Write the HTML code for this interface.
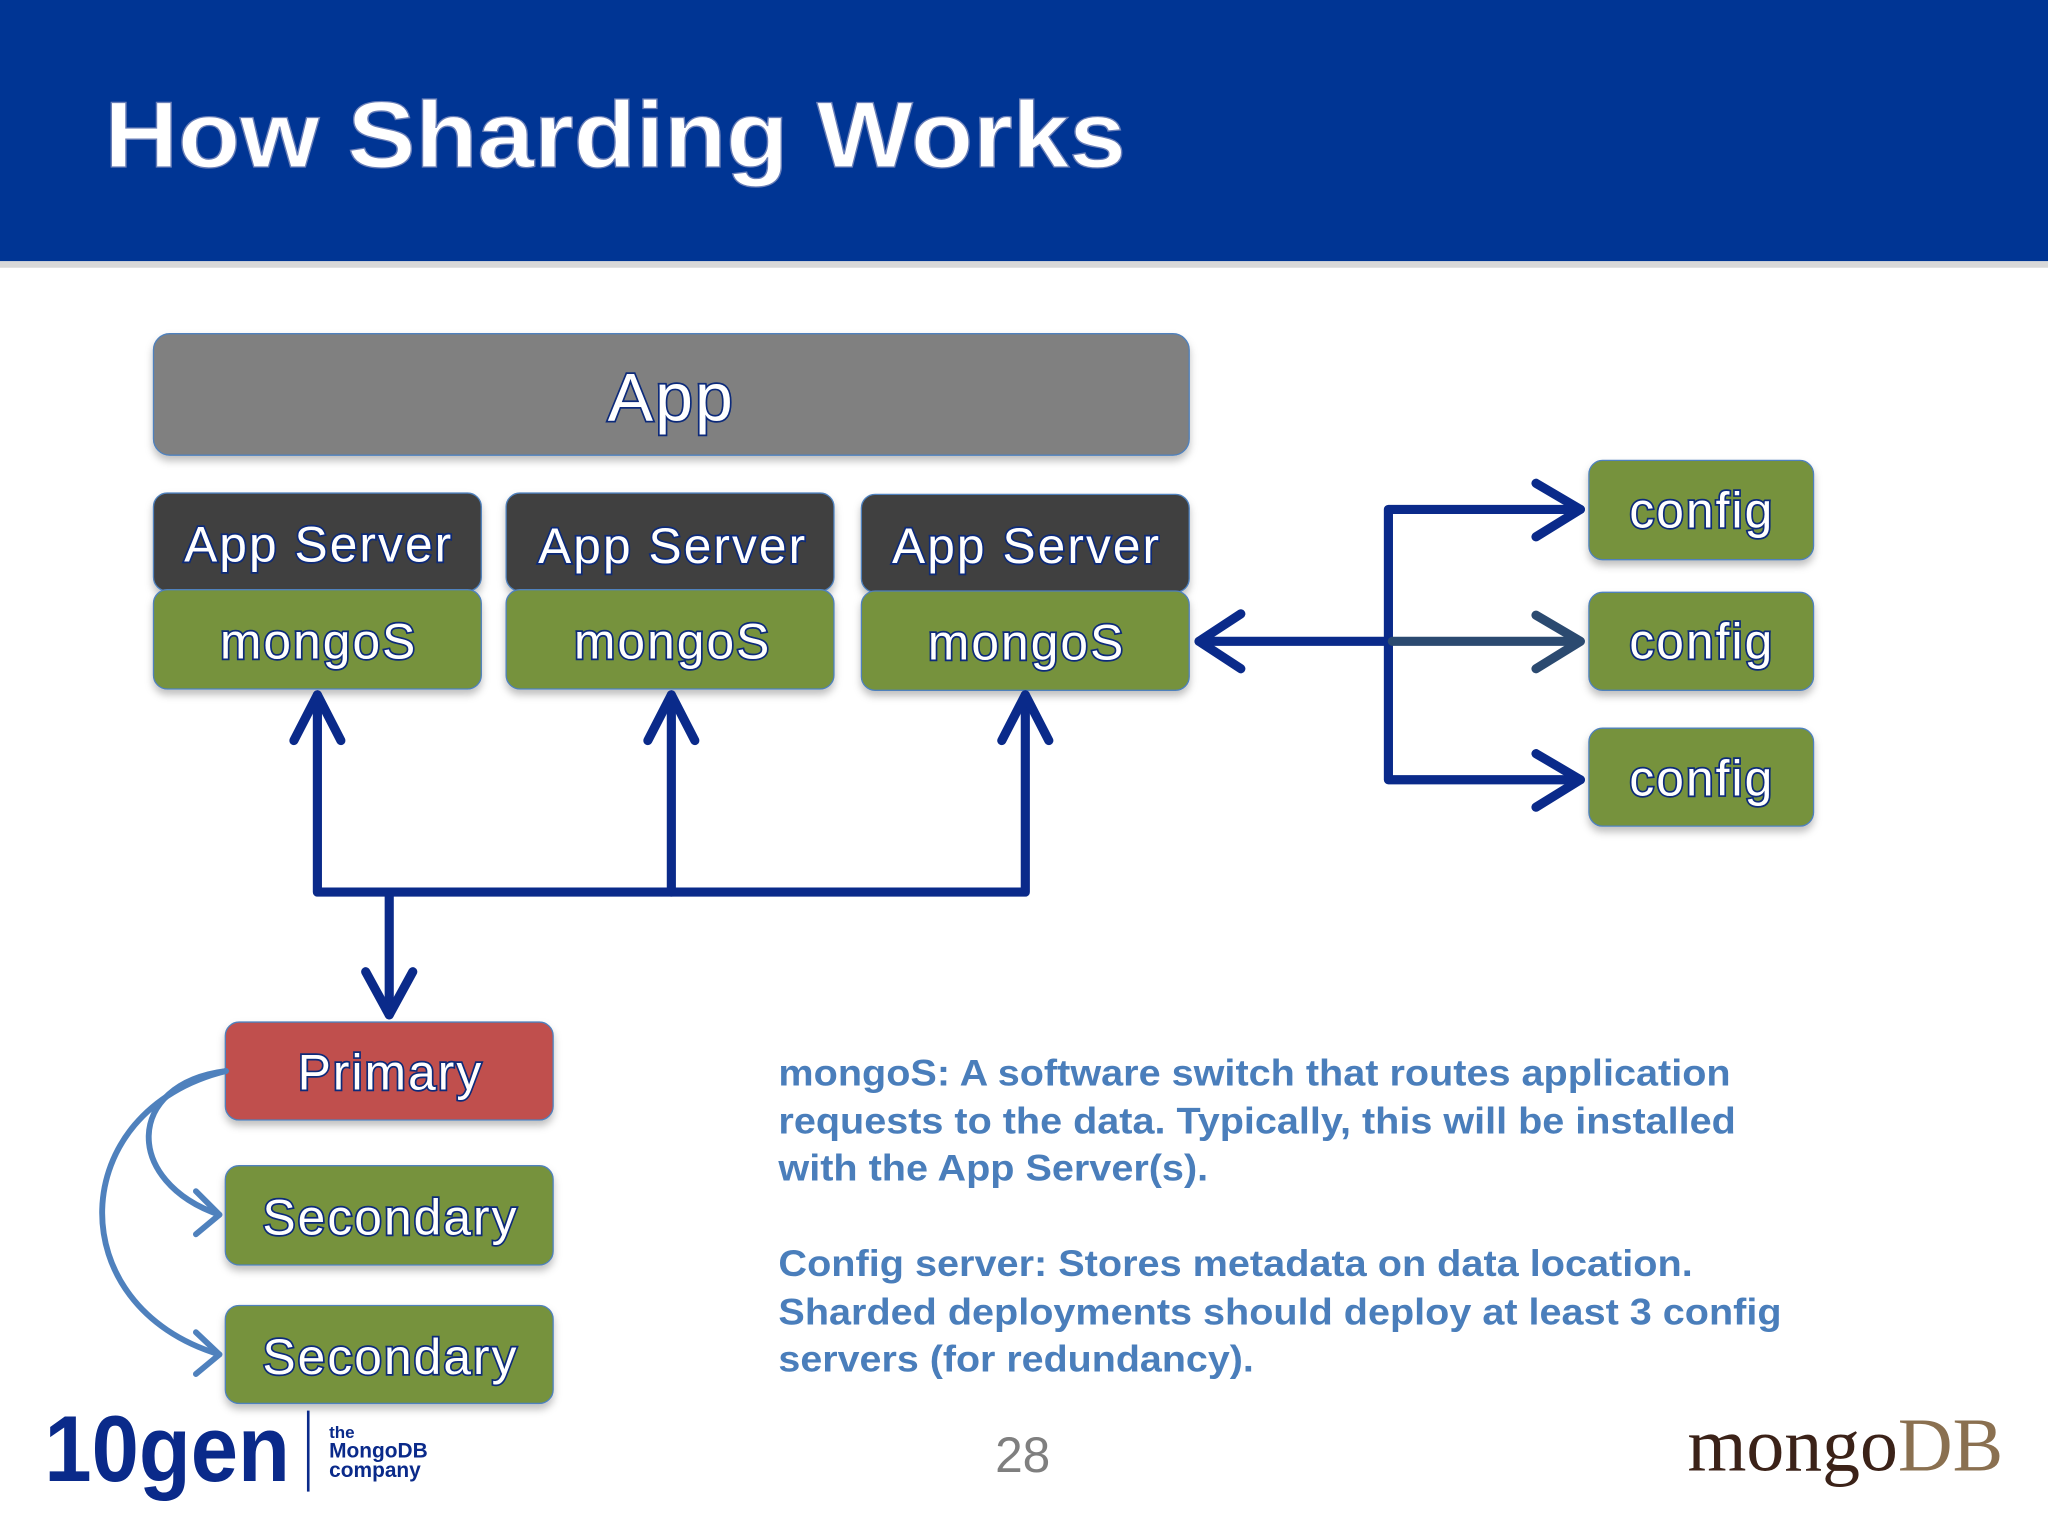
<!DOCTYPE html>
<html><head><meta charset="utf-8"><style>
html,body{margin:0;padding:0;background:#fff;}
svg{display:block;}
</style></head><body>
<svg width="2048" height="1536" viewBox="0 0 1568 1176" xmlns="http://www.w3.org/2000/svg">
<defs>
<filter id="sh" x="-5%" y="-5%" width="110%" height="130%"><feDropShadow dx="0" dy="4" stdDeviation="3" flood-color="#000" flood-opacity="0.25"/></filter>
</defs>
<rect x="0" y="0" width="1568" height="200" fill="#003594"/>
<rect x="0" y="200" width="1568" height="5" fill="#d8d8d8"/>
<text x="80" y="128" font-family="Liberation Sans, sans-serif" font-weight="bold" font-size="72" fill="#fff" stroke="#6a7fb8" stroke-width="1" textLength="782" lengthAdjust="spacingAndGlyphs">How Sharding Works</text>

<g font-family="Liberation Sans, sans-serif" text-anchor="middle" fill="#fff" stroke="#0a2a7a" stroke-width="2.6" paint-order="stroke" filter="url(#sh)" letter-spacing="1.6">
<rect x="118" y="256" width="792" height="92" rx="12" fill="#808080" stroke="#4f81bd" stroke-width="2"/>
<text x="514" y="322" font-size="52">App</text>
<rect x="118" y="378" width="250" height="74" rx="10" fill="#3f3f3f" stroke="#4f81bd" stroke-width="2"/>
<rect x="388" y="378" width="250" height="74" rx="10" fill="#3f3f3f" stroke="#4f81bd" stroke-width="2"/>
<rect x="660" y="379" width="250" height="74" rx="10" fill="#3f3f3f" stroke="#4f81bd" stroke-width="2"/>
<text x="244" y="430" font-size="38">App Server</text>
<text x="515" y="431" font-size="38">App Server</text>
<text x="786" y="431" font-size="38">App Server</text>
<rect x="118" y="452" width="250" height="75" rx="10" fill="#76923c" stroke="#4f81bd" stroke-width="2"/>
<rect x="388" y="452" width="250" height="75" rx="10" fill="#76923c" stroke="#4f81bd" stroke-width="2"/>
<rect x="660" y="453" width="250" height="75" rx="10" fill="#76923c" stroke="#4f81bd" stroke-width="2"/>
<text x="244" y="504" font-size="38">mongoS</text>
<text x="515" y="504" font-size="38">mongoS</text>
<text x="786" y="505" font-size="38">mongoS</text>
<rect x="1217" y="353" width="171" height="75" rx="10" fill="#76923c" stroke="#4f81bd" stroke-width="2"/>
<rect x="1217" y="454" width="171" height="74" rx="10" fill="#76923c" stroke="#4f81bd" stroke-width="2"/>
<rect x="1217" y="558" width="171" height="74" rx="10" fill="#76923c" stroke="#4f81bd" stroke-width="2"/>
<text x="1303" y="404" font-size="38">config</text>
<text x="1303" y="504" font-size="38">config</text>
<text x="1303" y="609" font-size="38">config</text>
<rect x="173" y="783" width="250" height="74" rx="10" fill="#c0504d" stroke="#4f81bd" stroke-width="2"/>
<rect x="173" y="893" width="250" height="75" rx="10" fill="#76923c" stroke="#4f81bd" stroke-width="2"/>
<rect x="173" y="1000" width="250" height="74" rx="10" fill="#76923c" stroke="#4f81bd" stroke-width="2"/>
<text x="299" y="834" font-size="38">Primary</text>
<text x="299" y="945" font-size="38">Secondary</text>
<text x="299" y="1052" font-size="38">Secondary</text>
</g>

<g fill="none" stroke="#0a2a8a" stroke-width="7" stroke-linecap="round" stroke-linejoin="round">
<path d="M243 532 V683 H785 V532"/>
<path d="M514 532 V683"/>
<path d="M225 567 L243 532 L261 567"/>
<path d="M496 567 L514 532 L532 567"/>
<path d="M767 567 L785 532 L803 567"/>
<path d="M298 683 V777"/>
<path d="M280 744 L298 777 L316 744"/>
<path d="M1210 390 H1063 V597 H1210"/>
<path d="M1176 370 L1210 390 L1176 411"/>
<path d="M1176 577 L1210 597 L1176 618"/>
<path d="M1063 491 H918"/>
<path d="M950 470 L918 491 L950 512"/>
</g>
<g fill="none" stroke="#2b4a70" stroke-width="7" stroke-linecap="round" stroke-linejoin="round">
<path d="M1066 491 H1208"/>
<path d="M1176 471 L1210 491 L1176 512"/>
</g>

<g fill="none" stroke="#4f81bd" stroke-width="4.5" stroke-linecap="round" stroke-linejoin="round">
<path d="M173 820 C95 830 95 905 168 930"/>
<path d="M150 912 L168 930 L150 945"/>
<path d="M173 820 C50 850 45 1000 168 1037"/>
<path d="M150 1020 L168 1037 L150 1052"/>
</g>

<g font-family="Liberation Sans, sans-serif" font-weight="bold" font-size="28.5" fill="#4a7ebb" lengthAdjust="spacingAndGlyphs">
<text x="596" y="831" textLength="729" lengthAdjust="spacingAndGlyphs">mongoS: A software switch that routes application</text>
<text x="596" y="868" textLength="733" lengthAdjust="spacingAndGlyphs">requests to the data. Typically, this will be installed</text>
<text x="596" y="904" textLength="329" lengthAdjust="spacingAndGlyphs">with the App Server(s).</text>
<text x="596" y="977" textLength="700" lengthAdjust="spacingAndGlyphs">Config server: Stores metadata on data location.</text>
<text x="596" y="1014" textLength="768" lengthAdjust="spacingAndGlyphs">Sharded deployments should deploy at least 3 config</text>
<text x="596" y="1050" textLength="364" lengthAdjust="spacingAndGlyphs">servers (for redundancy).</text>
</g>

<text x="783" y="1127" text-anchor="middle" font-family="Liberation Sans, sans-serif" font-size="38" fill="#7f7f7f">28</text>

<text x="34" y="1134" font-family="Liberation Sans, sans-serif" font-weight="bold" font-size="72" fill="#0a2a8a" textLength="188" lengthAdjust="spacingAndGlyphs">10gen</text>
<rect x="235" y="1080" width="2" height="62" fill="#0a2a8a"/>
<g font-family="Liberation Sans, sans-serif" font-weight="bold" fill="#0a2a8a">
<text x="252" y="1101" font-size="13">the</text>
<text x="252" y="1116" font-size="16">MongoDB</text>
<text x="252" y="1131" font-size="16">company</text>
</g>

<text x="1292" y="1126" font-family="Liberation Serif, serif" font-size="58"><tspan fill="#3b2218">mongo</tspan><tspan fill="#8a7050">DB</tspan></text>
</svg>
</body></html>
